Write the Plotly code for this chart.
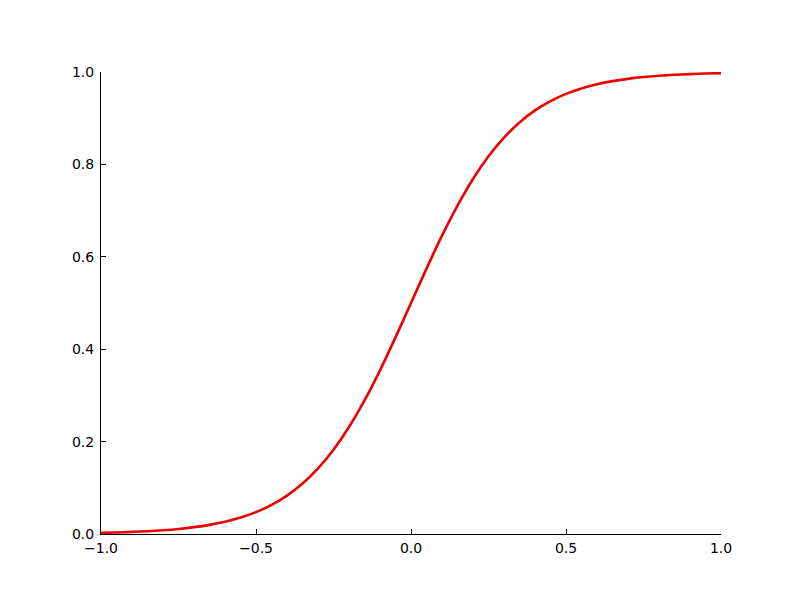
import plotly.graph_objects as go

x_values = [-1.0, -0.95, -0.9, -0.85, -0.8, -0.75, -0.7, -0.65, -0.6, -0.55, -0.5,
            -0.45, -0.4, -0.35, -0.3, -0.25, -0.2, -0.15, -0.1, -0.05, 0.0,
            0.05, 0.1, 0.15, 0.2, 0.25, 0.3, 0.35, 0.4, 0.45, 0.5,
            0.55, 0.6, 0.65, 0.7, 0.75, 0.8, 0.85, 0.9, 0.95, 1.0]
y_values = [0.0025, 0.0033, 0.0045, 0.0061, 0.0082, 0.0110, 0.0148, 0.0198, 0.0266, 0.0356, 0.0474,
            0.0630, 0.0832, 0.1091, 0.1419, 0.1824, 0.2315, 0.2891, 0.3543, 0.4256, 0.5,
            0.5744, 0.6457, 0.7109, 0.7685, 0.8176, 0.8581, 0.8909, 0.9168, 0.9370, 0.9526,
            0.9644, 0.9734, 0.9802, 0.9852, 0.9890, 0.9918, 0.9939, 0.9955, 0.9967, 0.9975]

x_ticks = [-1.0, -0.5, 0.0, 0.5, 1.0]
x_tick_labels = ["\u22121.0", "\u22120.5", "0.0", "0.5", "1.0"]
y_ticks = [0.0, 0.2, 0.4, 0.6, 0.8, 1.0]
y_tick_labels = ["0.0", "0.2", "0.4", "0.6", "0.8", "1.0"]

fig = go.Figure()
fig.add_trace(go.Scatter(
    x=x_values, y=y_values, mode="lines",
    line=dict(color="#ee0000", width=2.6, shape="spline", smoothing=0.8),
    showlegend=False, cliponaxis=True,
))

axis_common = dict(
    showgrid=False, zeroline=False, showline=True, linecolor="black", linewidth=1,
    ticks="inside", ticklen=5, tickwidth=1, tickcolor="black", mirror=False,
    tickfont=dict(family="DejaVu Sans", size=14, color="black"),
)

fig.update_layout(
    width=800, height=600,
    margin=dict(l=93, r=87, t=64, b=74, autoexpand=False),
    paper_bgcolor="white", plot_bgcolor="white",
    xaxis=dict(range=[-1, 1], tickvals=x_ticks, ticktext=x_tick_labels,
               ticklabelstandoff=1, **axis_common),
    yaxis=dict(range=[0, 1], tickvals=y_ticks, ticktext=y_tick_labels,
               ticklabelstandoff=3, **axis_common),
)

fig.write_html("out.html")
